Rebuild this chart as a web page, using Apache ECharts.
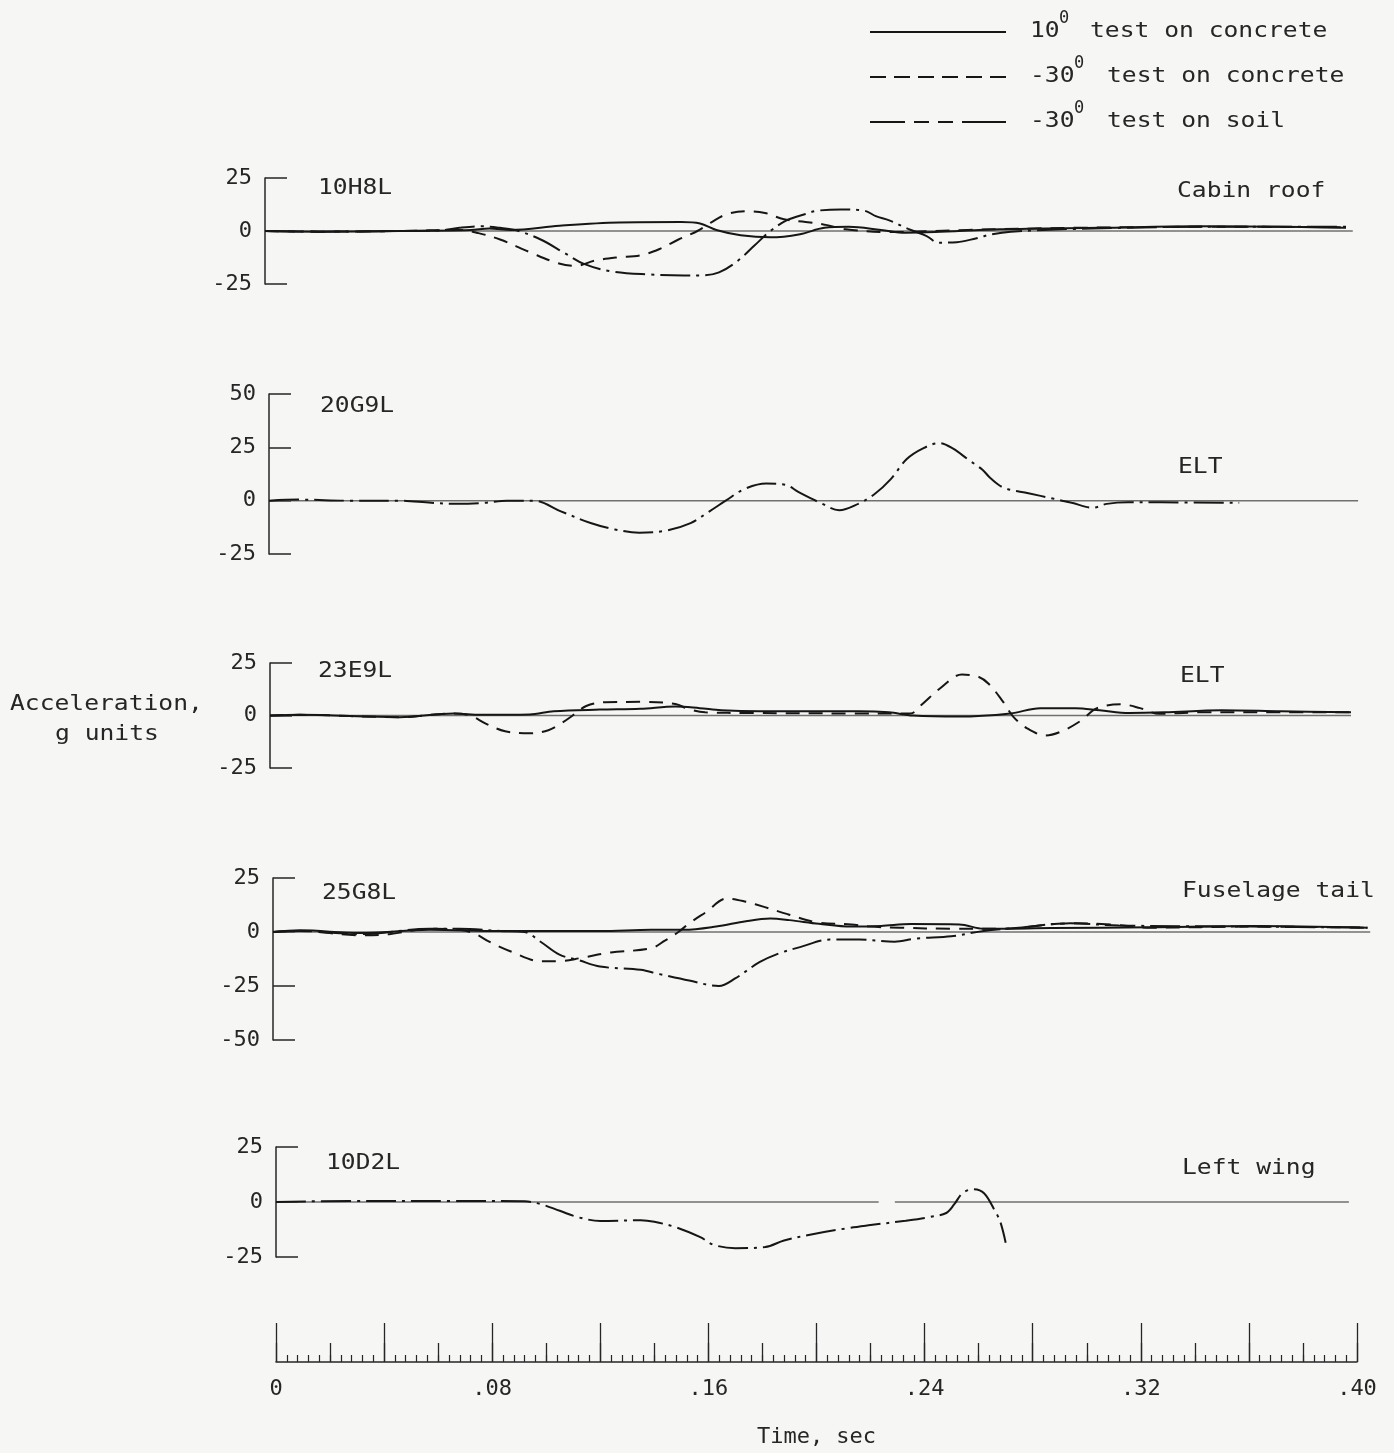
<!DOCTYPE html>
<html>
<head>
<meta charset="utf-8">
<title>Acceleration traces</title>
<script src="https://cdn.jsdelivr.net/npm/echarts@6.0.0/dist/echarts.min.js"></script>
<style>
  html, body { margin: 0; padding: 0; background: #f6f6f4; }
  #chart { width: 1394px; height: 1453px; }
</style>
</head>
<body>
<div id="chart"></div>
<script>
// ---- Channel identification -------------------------------------------
const channelIds = ['10H8L', '20G9L', '23E9L', '25G8L', '10D2L'];
const locations = ['Cabin roof', 'ELT', 'ELT', 'Fuselage tail', 'Left wing'];
const yRanges = [[-25, 25], [-25, 50], [-25, 25], [-50, 25], [-25, 25]];
const timeTickLabels = ['0', '.08', '.16', '.24', '.32', '.40'];

// ---- Acceleration traces, [time (s), acceleration (g)] ----------------
// 10H8L  cabin roof
const roofSolid = [[0,0],[0.02,-0.3],[0.05,0],[0.076,0.5],[0.083,1.2],[0.091,0.5],[0.109,2.5],[0.131,4],[0.154,4.2],[0.161,3.5],[0.167,0.5],[0.176,-2],[0.187,-3],[0.198,-1.5],[0.207,1.5],[0.216,2],[0.228,0.5],[0.237,-0.8],[0.248,-0.5],[0.272,0.8],[0.309,1.5],[0.346,2.2],[0.40,1.5]];
const roofDashed = [[0,0],[0.02,-0.3],[0.05,0],[0.072,0.5],[0.079,-1],[0.087,-4],[0.098,-10],[0.108,-15],[0.115,-16.5],[0.122,-14],[0.13,-12.5],[0.139,-11.5],[0.146,-8.5],[0.153,-4],[0.160,0],[0.165,4],[0.171,8],[0.178,9.3],[0.185,8.5],[0.192,5.5],[0.2,4.3],[0.207,3],[0.215,0.8],[0.23,-0.5],[0.26,0.5],[0.30,1.5],[0.35,2],[0.40,1.8]];
const roofSoil = [[0,0],[0.02,-0.3],[0.05,0],[0.065,0.3],[0.072,1.5],[0.08,2.2],[0.087,1.5],[0.093,0.3],[0.102,-4],[0.111,-10.5],[0.118,-15.5],[0.128,-19],[0.142,-20.5],[0.155,-21],[0.161,-21],[0.168,-19.5],[0.175,-14],[0.181,-7],[0.187,0],[0.193,5],[0.2,8],[0.204,9.5],[0.213,10.2],[0.222,9.5],[0.226,7],[0.231,5],[0.238,1],[0.245,-2.5],[0.249,-5.5],[0.256,-5.3],[0.263,-3.5],[0.269,-1.5],[0.276,-0.3],[0.3,1],[0.35,2],[0.40,2]];

// 20G9L  ELT
const eltSoil = [[0,0],[0.011,0.5],[0.03,0],[0.048,0],[0.06,-1],[0.07,-1.5],[0.08,-1],[0.088,0],[0.098,0],[0.108,-5],[0.119,-10.5],[0.128,-13.5],[0.137,-15],[0.147,-14],[0.156,-10.5],[0.163,-5],[0.169,0],[0.176,5.5],[0.184,8],[0.191,7.5],[0.196,4],[0.204,-1],[0.211,-4.5],[0.218,-1.5],[0.224,3],[0.230,10],[0.236,19.5],[0.242,24.5],[0.248,27],[0.253,24.5],[0.259,19],[0.264,14.5],[0.267,10.5],[0.272,6],[0.281,3.5],[0.29,1],[0.297,-1],[0.305,-3.3],[0.31,-1.5],[0.318,-0.8],[0.33,-0.8],[0.359,-1]];

// 23E9L  ELT
const elt2Solid = [[0,0],[0.011,0.3],[0.048,-0.8],[0.068,1],[0.078,0.3],[0.096,0.5],[0.105,2],[0.122,2.8],[0.137,3.2],[0.15,4.3],[0.159,3.5],[0.167,2.5],[0.181,2],[0.196,2],[0.218,2],[0.229,1.5],[0.238,0],[0.255,-0.5],[0.274,1],[0.285,3.5],[0.298,3.5],[0.307,2.5],[0.318,1.2],[0.331,1.5],[0.352,2.5],[0.374,2],[0.40,1.5]];
const elt2Dashed = [[0,0],[0.011,0.3],[0.048,-0.8],[0.068,1],[0.074,0],[0.080,-4],[0.087,-7.5],[0.096,-8.5],[0.103,-7],[0.108,-3.5],[0.112,0],[0.117,4.5],[0.124,6.3],[0.137,6.5],[0.15,5.5],[0.155,3],[0.161,1.5],[0.178,1.2],[0.215,1],[0.237,1],[0.241,5],[0.248,13],[0.256,19.5],[0.262,18.5],[0.266,15],[0.271,7],[0.275,-0.5],[0.280,-6],[0.287,-9.5],[0.293,-7.5],[0.300,-2.5],[0.306,3.5],[0.315,5.3],[0.322,3.5],[0.329,0.8],[0.344,1.5],[0.374,1.5],[0.40,1.5]];

// 25G8L  fuselage tail
const tailSolid = [[0,0],[0.01,0.8],[0.032,-0.5],[0.058,1],[0.084,0.5],[0.121,0.5],[0.14,1],[0.152,1],[0.164,2.5],[0.175,5],[0.184,6.2],[0.191,5.5],[0.202,3.8],[0.214,2.5],[0.225,2.8],[0.236,3.7],[0.254,3.5],[0.263,1.5],[0.288,1.8],[0.325,2.2],[0.362,2.8],[0.405,2]];
const tailDashed = [[0,0],[0.01,0.5],[0.032,-1.5],[0.043,-1],[0.058,1.5],[0.069,1],[0.075,-1],[0.080,-4.5],[0.088,-9],[0.099,-13.5],[0.106,-13.5],[0.114,-12],[0.125,-9.5],[0.14,-7.5],[0.145,-4],[0.150,0],[0.154,4],[0.160,9],[0.168,15.5],[0.175,14],[0.182,11.5],[0.191,8],[0.201,4.5],[0.214,3.5],[0.221,2.5],[0.232,2],[0.251,1.5],[0.269,1.5],[0.295,4],[0.31,3.5],[0.325,2],[0.362,2.5],[0.405,2]];
const tailSoil = [[0,0],[0.01,0.5],[0.032,-1],[0.058,1.5],[0.069,1.5],[0.084,0.5],[0.093,0],[0.099,-4.5],[0.106,-10.5],[0.113,-13],[0.121,-16],[0.136,-17.5],[0.143,-19.5],[0.154,-22.5],[0.165,-25],[0.171,-21.5],[0.180,-14],[0.187,-10],[0.195,-7],[0.206,-3.5],[0.217,-3.5],[0.230,-4.5],[0.238,-3],[0.251,-2],[0.263,0.5],[0.276,2],[0.295,4],[0.313,3],[0.362,2.5],[0.405,2]];

// 10D2L  left wing
const wingSoil = [[0,0],[0.027,0.5],[0.064,0.5],[0.092,0.3],[0.098,-1],[0.105,-4],[0.112,-7],[0.120,-8.6],[0.135,-8.3],[0.140,-9],[0.148,-11.5],[0.157,-16],[0.162,-19.5],[0.170,-21],[0.181,-20.5],[0.188,-17.5],[0.199,-14.5],[0.211,-12],[0.220,-10.5],[0.233,-8.5],[0.242,-6.8],[0.248,-5],[0.251,-1],[0.254,4],[0.258,5.8],[0.262,4],[0.266,-4],[0.268,-9],[0.270,-18.5]];

// Zero reference traces recorded with each channel
const zeroTraces = [
  [[0,0],[0.4025,0]],
  [[0,0],[0.403,0]],
  [[0,0],[0.400,0]],
  [[0,0],[0.406,0]],
  [[0,0],[0.223,0],[0.2245,'-'],[0.229,0],[0.397,0]]
];

const panelTraces = [
  [roofSolid, roofDashed, roofSoil],
  [null, null, eltSoil],
  [elt2Solid, elt2Dashed, null],
  [tailSolid, tailDashed, tailSoil],
  [null, null, wingSoil]
];

// ---- Layout --------------------------------------------------------------
const FONT = '"DejaVu Sans Mono", monospace';
const INK = '#262626';
const PX_PER_SEC = 2702.5;
const PANEL_TMAX = 0.41;
const panelBoxes = [
  { left: 265, top: 178, height: 106 },
  { left: 269, top: 394, height: 160 },
  { left: 270, top: 663, height: 105 },
  { left: 273, top: 878, height: 162 },
  { left: 276, top: 1147, height: 110 }
];
const lineKinds = [
  { type: 'solid' },
  { type: [14, 9] },
  { type: [30, 6, 3, 6] }
];

const grid = [], xAxis = [], yAxis = [], series = [];

panelBoxes.forEach((b, i) => {
  grid.push({ left: b.left, top: b.top, height: b.height,
              width: PANEL_TMAX * PX_PER_SEC, outerBoundsMode: 'none' });
  xAxis.push({ gridIndex: i, type: 'value', min: 0, max: PANEL_TMAX, show: false });
  yAxis.push({
    gridIndex: i, type: 'value', min: yRanges[i][0], max: yRanges[i][1], interval: 25,
    axisLine: { show: true, lineStyle: { color: INK, width: 1.5 } },
    axisTick: { show: true, inside: true, length: 22, lineStyle: { color: INK, width: 1.5 } },
    axisLabel: { fontFamily: FONT, fontSize: 22, color: INK, margin: 13 },
    splitLine: { show: false }
  });
  series.push({
    type: 'line', xAxisIndex: i, yAxisIndex: i, data: zeroTraces[i],
    showSymbol: false, silent: true, connectNulls: false, clip: false,
    lineStyle: { color: '#707070', width: 1.5 }
  });
  panelTraces[i].forEach((d, k) => {
    if (!d) return;
    series.push({
      type: 'line', xAxisIndex: i, yAxisIndex: i, data: d,
      showSymbol: false, smooth: 0.35, silent: true, clip: false,
      lineStyle: { color: '#161616', width: 2, type: lineKinds[k].type }
    });
  });
});

// Time scale: long ticks every .04 s, medium every .02 s, short every .004 s
const T = panelBoxes.length;
grid.push({ left: 276, top: 1300, width: 0.40 * PX_PER_SEC, height: 62, outerBoundsMode: 'none' });
yAxis.push({ gridIndex: T, type: 'value', min: 0, max: 1, show: false });
xAxis.push({
  gridIndex: T, type: 'value', position: 'bottom', min: 0, max: 0.40, interval: 0.04,
  axisLine: { show: true, lineStyle: { color: INK, width: 1.5 } },
  axisTick: { show: true, inside: true, length: 39, lineStyle: { color: INK, width: 1.3 } },
  minorTick: { show: true, splitNumber: 10, length: 7, lineStyle: { color: INK, width: 1.2 } },
  axisLabel: {
    fontFamily: FONT, fontSize: 22, color: INK, margin: 16,
    formatter: v => {
      const k = Math.round(v / 0.04);
      return k % 2 === 0 ? timeTickLabels[k / 2] : '';
    }
  },
  splitLine: { show: false },
  name: 'Time, sec', nameLocation: 'middle', nameGap: 64,
  nameTextStyle: { fontFamily: FONT, fontSize: 22, color: INK }
});
xAxis.push({
  gridIndex: T, type: 'value', position: 'bottom', offset: 0, min: 0, max: 0.40, interval: 0.02,
  axisLine: { show: false },
  axisTick: { show: true, inside: true, length: 19, lineStyle: { color: INK, width: 1.3 } },
  axisLabel: { show: false },
  splitLine: { show: false }
});

// ---- Text and key ----------------------------------------------------------
function label(x, y, s, size, sx) {
  return {
    type: 'text', x: x, y: y, scaleX: sx === undefined ? 1.12 : sx, silent: true,
    style: { text: s, fill: INK, fontFamily: FONT, fontSize: size || 22,
             align: 'left', verticalAlign: 'middle' }
  };
}
function keySeg(x1, x2, y, dash) {
  return {
    type: 'line', silent: true,
    shape: { x1: x1, y1: y, x2: x2, y2: y },
    style: { stroke: '#161616', lineWidth: 2, lineDash: dash || null }
  };
}

const idPos = [[318, 188], [320, 406], [318, 671], [322, 893], [326, 1163]];
const locPos = [[1177, 191], [1178, 467], [1180, 676], [1182, 891], [1182, 1168]];

const graphic = [
  keySeg(870, 1006, 32),
  keySeg(870, 1006, 77, [16, 8]),
  keySeg(870, 905, 122), keySeg(914, 929, 122), keySeg(938, 953, 122), keySeg(962, 1006, 122),
  label(1030, 31, '10'), label(1059, 19, '0', 17, 1), label(1090, 31, 'test on concrete'),
  label(1030, 76, '-30'), label(1074, 64, '0', 17, 1), label(1107, 76, 'test on concrete'),
  label(1030, 121, '-30'), label(1074, 109, '0', 17, 1), label(1107, 121, 'test on soil'),
  label(10, 704, 'Acceleration,'),
  label(55, 734, 'g units')
];
channelIds.forEach((id, i) => graphic.push(label(idPos[i][0], idPos[i][1], id)));
locations.forEach((s, i) => graphic.push(label(locPos[i][0], locPos[i][1], s)));

const chart = echarts.init(document.getElementById('chart'), null, { renderer: 'canvas' });
chart.setOption({
  backgroundColor: '#f6f6f4',
  animation: false,
  grid, xAxis, yAxis, series, graphic
});
</script>
</body>
</html>
